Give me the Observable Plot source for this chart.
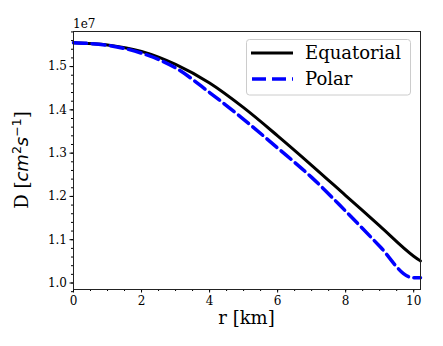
<!DOCTYPE html>
<html>
<head>
<meta charset="utf-8">
<script src="https://cdn.jsdelivr.net/npm/d3@7"></script>
<script src="https://cdn.jsdelivr.net/npm/@observablehq/plot@0.6"></script>
<style>
  body { margin: 0; background: #fff; }
  svg { display: block; }
</style>
</head>
<body>
<div id="chart"></div>
<script>
// Radius [km] and diffusion coefficient D (units of 1e7 cm^2 s^-1)
const rEquatorial = [0, 1, 2, 3, 4, 5, 6, 7, 8, 9, 10, 10.2];
const dEquatorial = [1.555, 1.550, 1.535, 1.505, 1.462, 1.405, 1.340, 1.272, 1.202, 1.132, 1.062, 1.051];
const rPolar = [0, 1, 2, 3, 4, 5, 6, 7, 8, 9, 9.87, 10, 10.2];
const dPolar = [1.555, 1.549, 1.531, 1.497, 1.440, 1.378, 1.312, 1.244, 1.166, 1.085, 1.014, 1.012, 1.012];
const seriesNames = ["Equatorial", "Polar"];
const xMajorTicks = [0, 2, 4, 6, 8, 10];
const yMajorTicks = [1.0, 1.1, 1.2, 1.3, 1.4, 1.5];
const offsetLabel = "1e7";

const eq = rEquatorial.map((r, i) => ({r, D: dEquatorial[i]}));
const pol = rPolar.map((r, i) => ({r, D: dPolar[i]}));

const xMinor = d3.range(0, 10.21, 0.5);
const yMinor = d3.range(98, 159, 2).map(v => v / 100);

const W = 443, H = 346;
const mL = 73, mR = 23, mT = 31, mB = 57;

const chart = Plot.plot({
  width: W,
  height: H,
  marginLeft: mL, marginRight: mR, marginTop: mT, marginBottom: mB,
  style: {fontFamily: "DejaVu Serif", fontSize: "12px", color: "#000", background: "#fff"},
  x: {domain: [0, 10.2]},
  y: {domain: [0.985, 1.581]},
  marks: [
    Plot.axisX({ticks: xMinor, tickSize: 2, tickFormat: () => "", label: null}),
    Plot.axisX({ticks: xMajorTicks, tickSize: 3.5, tickPadding: 3, tickFormat: d3.format("d"), label: null}),
    Plot.axisY({ticks: yMinor, tickSize: 2, tickFormat: () => "", label: null}),
    Plot.axisY({ticks: yMajorTicks, tickSize: 3.5, tickPadding: 3, tickFormat: d3.format(".1f"), label: null}),
    Plot.line(eq, {x: "r", y: "D", stroke: "#000", strokeWidth: 3, curve: "monotone-x"}),
    Plot.line(pol, {x: "r", y: "D", stroke: "#0000ff", strokeWidth: 3.5, strokeDasharray: "13,5.5", curve: "monotone-x"}),
    Plot.frame({stroke: "#222", strokeWidth: 1})
  ]
});

const svg = d3.select(chart);
svg.selectAll("text").attr("font-family", "DejaVu Serif").attr("font-size", 12);

// offset text
svg.append("text").attr("x", mL).attr("y", 27.5).attr("text-anchor", "start")
  .attr("font-family", "DejaVu Serif").attr("font-size", 12).text(offsetLabel);

// x label
svg.append("text").attr("x", (mL + W - mR) / 2).attr("y", 324)
  .attr("text-anchor", "middle").attr("font-family", "DejaVu Serif").attr("font-size", 18)
  .text("r [km]");

// y label with math
const yl = svg.append("text")
  .attr("transform", `translate(28,${(mT + H - mB) / 2}) rotate(-90)`)
  .attr("text-anchor", "middle").attr("font-family", "DejaVu Serif").attr("font-size", 18);
yl.append("tspan").text("D [");
yl.append("tspan").attr("font-family", "DejaVu Sans").attr("font-style", "italic").text("cm");
yl.append("tspan").attr("font-family", "DejaVu Sans").attr("font-size", 12.5).attr("dy", -7).text("2");
yl.append("tspan").attr("font-family", "DejaVu Sans").attr("font-style", "italic").attr("dy", 7).text("s");
yl.append("tspan").attr("font-family", "DejaVu Sans").attr("font-size", 12.5).attr("dy", -7).text("\u22121");
yl.append("tspan").attr("dy", 7).text("]");

// legend
const lg = svg.append("g").attr("text-anchor", "start");
lg.append("rect").attr("x", 246.5).attr("y", 39.5).attr("width", 164).attr("height", 55.5)
  .attr("rx", 3).attr("fill", "#fff").attr("fill-opacity", 0.8).attr("stroke", "#cccccc");
lg.append("line").attr("x1", 251).attr("x2", 293).attr("y1", 53).attr("y2", 53)
  .attr("stroke", "#000").attr("stroke-width", 3);
lg.append("line").attr("x1", 252).attr("x2", 293).attr("y1", 79).attr("y2", 79)
  .attr("stroke", "#0000ff").attr("stroke-width", 3.5).attr("stroke-dasharray", "14,6");
lg.append("text").attr("x", 305).attr("y", 59).attr("font-family", "DejaVu Serif").attr("font-size", 18).text(seriesNames[0]);
lg.append("text").attr("x", 305).attr("y", 85).attr("font-family", "DejaVu Serif").attr("font-size", 18).text(seriesNames[1]);

document.getElementById("chart").appendChild(chart);
</script>
</body>
</html>
